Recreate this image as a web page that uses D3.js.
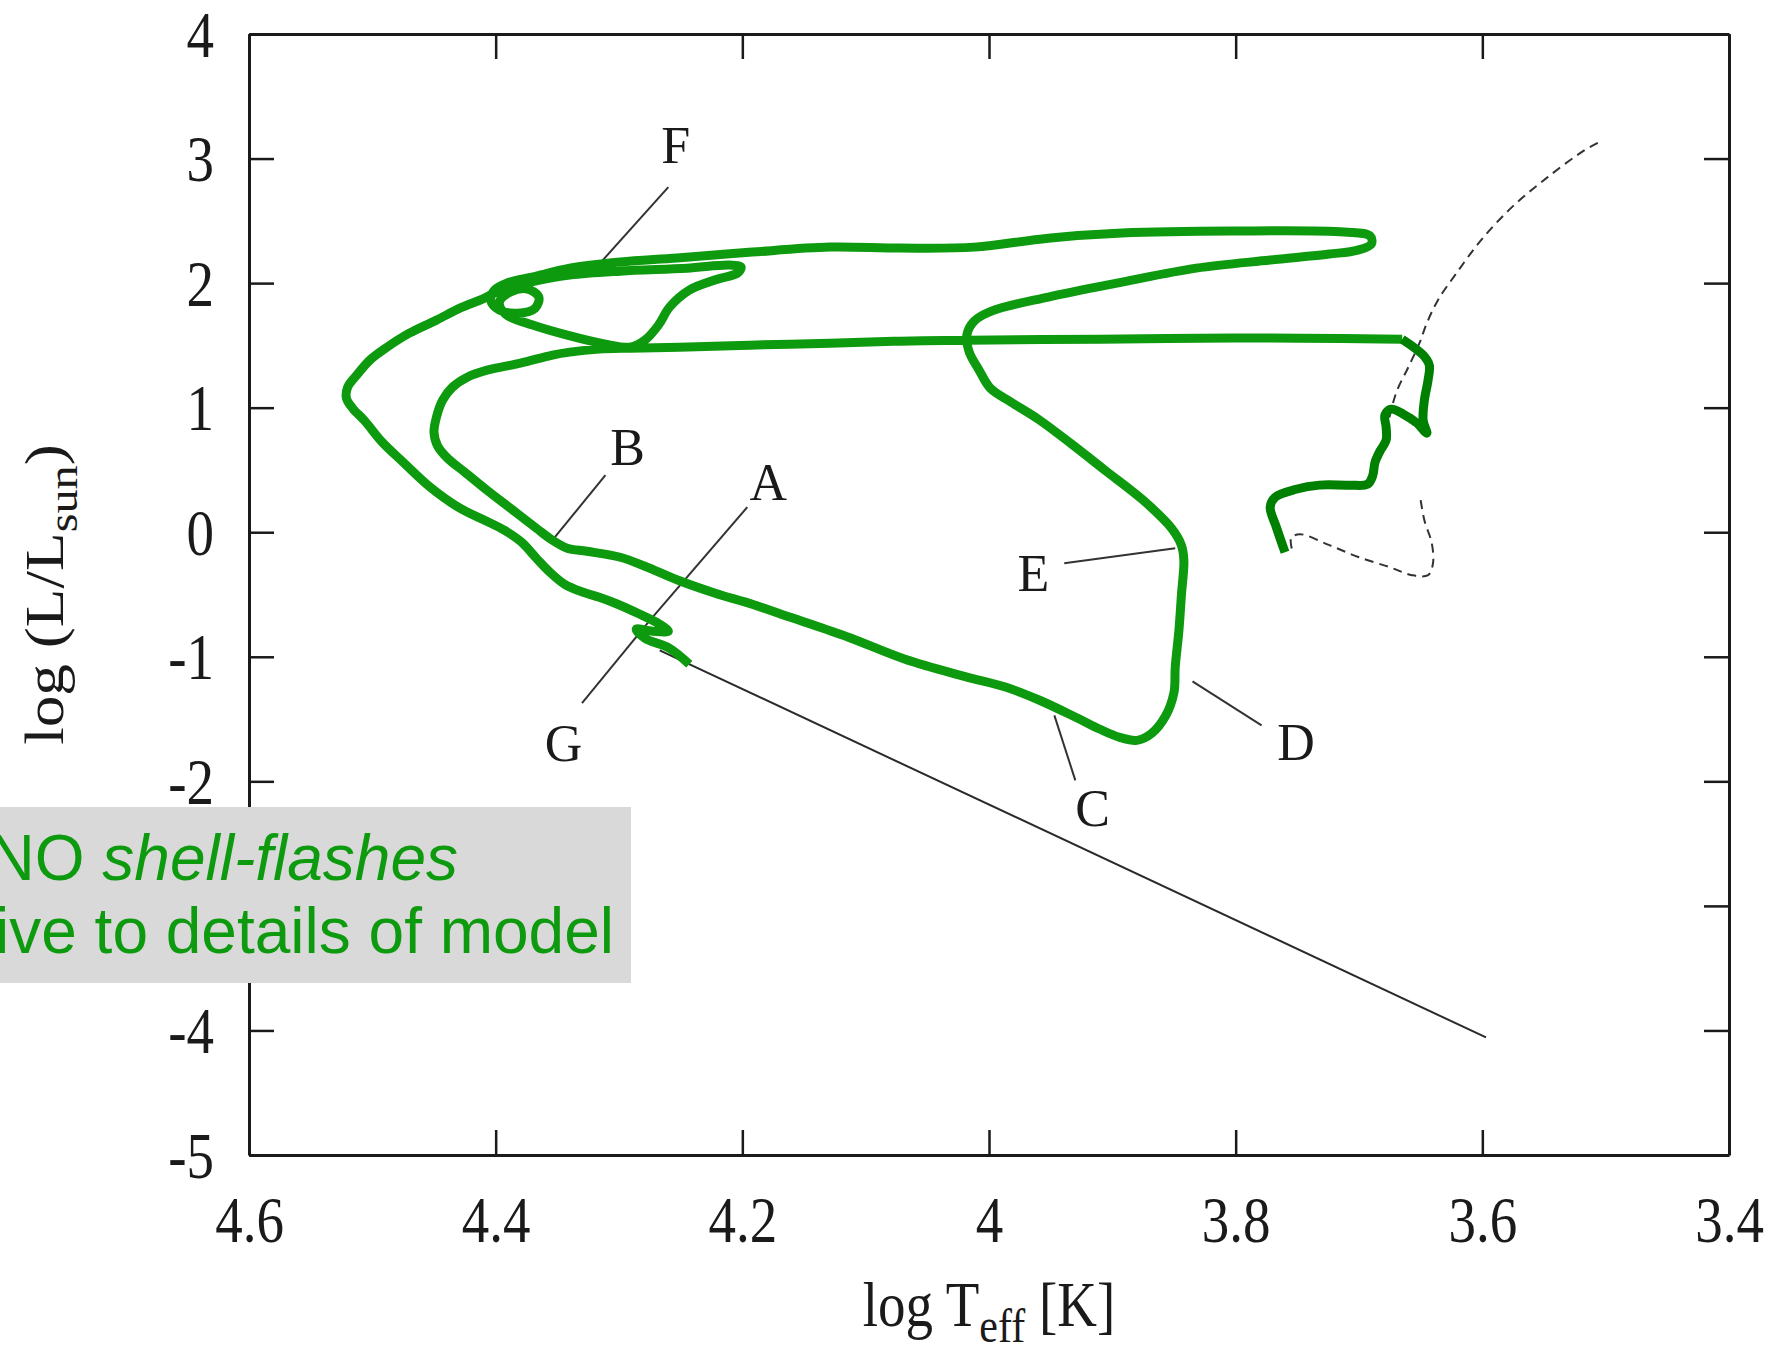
<!DOCTYPE html>
<html>
<head>
<meta charset="utf-8">
<script src="https://cdn.jsdelivr.net/npm/d3@7"></script>
<style>
    body { margin: 0; background: #fff; }
    svg { display: block; }
</style>
</head>
<body>
<svg id="chart" width="1775" height="1351"></svg>
<script>
// axis ticks (the -3 label sits under the grey note box in the picture)
const xTicks = [4.6, 4.4, 4.2, 4.0, 3.8, 3.6, 3.4];
const yTicks = [4, 3, 2, 1, 0, -1, -2, -3, -4, -5];
const hiddenYLabels = [-3];

// [log Teff, log L]
// giant branch part of the highlighted track (darker green)
const rgbTrack = [
    [3.760, -0.161], [3.767, 0.040], [3.772, 0.201], [3.768, 0.281], [3.751, 0.345],
    [3.732, 0.378], [3.708, 0.378], [3.693, 0.386], [3.689, 0.450], [3.687, 0.562],
    [3.683, 0.651], [3.678, 0.739], [3.678, 0.843], [3.679, 0.940], [3.674, 0.988],
    [3.664, 0.948], [3.653, 0.876], [3.645, 0.795], [3.648, 0.900], [3.647, 1.060],
    [3.644, 1.221], [3.643, 1.341], [3.648, 1.422], [3.665, 1.550]
];

// the rest of the highlighted track, tip of the giant branch to the cooling line
const loopTrack = [
    // crossing to the blue
    [3.665, 1.550], [3.748, 1.558], [3.829, 1.558], [3.910, 1.550], [4.018, 1.542],
    [4.072, 1.534], [4.129, 1.518], [4.194, 1.502], [4.251, 1.486], [4.291, 1.478],
    // inner loop
    [4.316, 1.470], [4.340, 1.446], [4.354, 1.422], [4.380, 1.357], [4.407, 1.301],
    [4.423, 1.245], [4.435, 1.165], [4.443, 1.060], [4.448, 0.924], [4.450, 0.803],
    [4.447, 0.691], [4.439, 0.594], [4.425, 0.482], [4.407, 0.337], [4.386, 0.177],
    [4.367, 0.032], [4.354, -0.064], [4.342, -0.128],
    // big loop C -> D -> E and back
    [4.326, -0.153], [4.299, -0.201], [4.279, -0.273], [4.252, -0.386], [4.222, -0.490],
    [4.192, -0.578], [4.161, -0.683], [4.114, -0.843], [4.068, -1.020], [4.020, -1.157],
    [3.986, -1.245], [3.959, -1.349], [3.928, -1.494], [3.910, -1.582], [3.894, -1.647],
    [3.880, -1.671], [3.868, -1.614], [3.857, -1.478], [3.850, -1.285], [3.849, -1.084],
    [3.846, -0.787], [3.844, -0.506], [3.842, -0.225], [3.844, -0.104], [3.852, 0.032],
    [3.875, 0.257], [3.906, 0.498], [3.934, 0.715], [3.959, 0.900], [3.982, 1.044],
    [3.999, 1.157], [4.008, 1.301], [4.016, 1.446], [4.018, 1.582], [4.012, 1.695],
    [3.998, 1.775], [3.952, 1.888], [3.892, 2.008], [3.832, 2.120], [3.772, 2.185],
    [3.724, 2.233], [3.701, 2.265], [3.690, 2.313], [3.691, 2.378], [3.712, 2.410],
    [3.802, 2.418], [3.892, 2.402], [3.952, 2.361], [4.012, 2.289], [4.072, 2.281],
    [4.129, 2.289], [4.192, 2.249], [4.253, 2.201], [4.299, 2.169], [4.340, 2.120],
    [4.367, 2.056], [4.391, 2.000],
    // small loop near F
    [4.401, 1.944], [4.404, 1.863], [4.397, 1.783], [4.382, 1.759], [4.368, 1.799],
    [4.365, 1.888], [4.374, 1.952], [4.388, 1.928], [4.397, 1.847], [4.392, 1.751],
    [4.370, 1.663], [4.342, 1.582], [4.311, 1.510], [4.291, 1.486],
    // tongue
    [4.279, 1.542], [4.268, 1.663], [4.259, 1.807], [4.243, 1.944], [4.220, 2.032],
    [4.204, 2.080], [4.201, 2.129], [4.210, 2.145], [4.245, 2.120], [4.299, 2.096],
    [4.340, 2.064], [4.372, 2.008], [4.393, 1.960], [4.409, 1.880],
    // outer loop down to G
    [4.429, 1.799], [4.448, 1.703], [4.470, 1.598], [4.488, 1.486], [4.502, 1.382],
    [4.512, 1.269], [4.520, 1.165], [4.521, 1.076], [4.516, 0.996], [4.506, 0.892],
    [4.492, 0.723], [4.475, 0.562], [4.453, 0.361], [4.429, 0.193], [4.409, 0.096],
    [4.393, 0.016], [4.379, -0.080], [4.367, -0.209], [4.356, -0.321], [4.344, -0.418],
    [4.329, -0.482], [4.316, -0.522],
    [4.303, -0.570], [4.283, -0.659], [4.267, -0.739], [4.260, -0.795], [4.273, -0.795],
    [4.286, -0.779], [4.279, -0.851], [4.259, -0.932], [4.243, -1.060]
];

// white dwarf cooling line
const coolingTrack = [[4.267, -0.948], [3.597, -4.056]];

// dashed comparison track
const dashUpper = [
    [3.678, 0.803], [3.674, 0.980], [3.669, 1.141], [3.660, 1.325], [3.651, 1.518],
    [3.645, 1.679], [3.636, 1.863], [3.621, 2.080], [3.601, 2.345], [3.576, 2.610],
    [3.547, 2.851], [3.517, 3.068], [3.505, 3.133]
];
const dashLower = [
    [3.650, 0.257], [3.647, 0.096], [3.641, -0.088], [3.640, -0.249], [3.644, -0.345],
    [3.657, -0.345], [3.675, -0.281], [3.700, -0.201], [3.724, -0.104], [3.748, -0.016],
    [3.755, -0.048], [3.754, -0.153]
];

// letter labels: position of the letter and its leader line
const labelNames = ["A", "B", "C", "D", "E", "F", "G"];
const labelPos = [[4.179, 0.402], [4.293, 0.683], [3.916, -2.209], [3.751, -1.679], [3.964, -0.329], [4.254, 3.108], [4.345, -1.687]];
const leaderFrom = [[4.196, 0.201], [4.311, 0.458], [3.930, -1.992], [3.779, -1.550], [3.939, -0.249], [4.260, 2.771], [4.330, -1.373]];
const leaderTo = [[4.275, -0.707], [4.354, -0.064], [3.947, -1.470], [3.835, -1.197], [3.849, -0.128], [4.316, 2.153], [4.275, -0.707]];

const noteLines = ["NO ", "shell-flashes", "Sensitive to details of model"];

const svg = d3.select("#chart");
const plot = {left: 249, right: 1729, top: 34, bottom: 1155};
const serif = "'Liberation Serif', 'Times New Roman', serif";
const green = "#0e9a0e";

const x = d3.scaleLinear().domain([4.6, 3.4]).range([plot.left, plot.right]);
const y = d3.scaleLinear().domain([-5, 4]).range([plot.bottom, plot.top]);

const line = d3.line()
    .x(d => x(d[0]))
    .y(d => y(d[1]));
const smooth = d3.line()
    .x(d => x(d[0]))
    .y(d => y(d[1]))
    .curve(d3.curveCatmullRom.alpha(0.5));

//black lines of the original figure
svg.append("path")
    .attr("d", line(coolingTrack))
    .attr("fill", "none").attr("stroke", "#2a2a2a").attr("stroke-width", 2);

svg.selectAll(".dash")
    .data([dashUpper, dashLower])
    .join("path")
    .attr("class", "dash")
    .attr("d", smooth)
    .attr("fill", "none").attr("stroke", "#333").attr("stroke-width", 2)
    .attr("stroke-dasharray", "9,6");

svg.selectAll(".leader")
    .data(labelNames)
    .join("line")
    .attr("class", "leader")
    .attr("x1", (d, i) => x(leaderFrom[i][0]))
    .attr("y1", (d, i) => y(leaderFrom[i][1]))
    .attr("x2", (d, i) => x(leaderTo[i][0]))
    .attr("y2", (d, i) => y(leaderTo[i][1]))
    .attr("stroke", "#333").attr("stroke-width", 2);

//highlighted track
svg.append("path")
    .attr("d", smooth(loopTrack))
    .attr("fill", "none").attr("stroke", green)
    .attr("stroke-width", 9).attr("stroke-linejoin", "round");

svg.append("path")
    .attr("d", smooth(rgbTrack))
    .attr("fill", "none").attr("stroke", "#008000")
    .attr("stroke-width", 9).attr("stroke-linejoin", "round");

svg.selectAll(".letter")
    .data(labelNames)
    .join("text")
    .attr("class", "letter")
    .attr("x", (d, i) => x(labelPos[i][0]))
    .attr("y", (d, i) => y(labelPos[i][1]))
    .attr("dy", "0.35em")
    .attr("text-anchor", "middle")
    .attr("font-family", serif)
    .attr("font-size", 52)
    .attr("fill", "#1a1a1a")
    .text(d => d);

//axes: labels on bottom and left, mirrored ticks on top and right
const fmt = d => String(+d.toFixed(1));

function styleAxis(g) {
    g.attr("font-family", serif).attr("font-size", 55);
    g.select(".domain").attr("stroke", "#1a1a1a").attr("stroke-width", 3);
    g.selectAll(".tick line").attr("stroke", "#1a1a1a").attr("stroke-width", 2.5);
    g.selectAll(".tick text").attr("fill", "#1a1a1a");
}

const gBottom = svg.append("g")
    .attr("transform", `translate(0,${plot.bottom})`)
    .call(d3.axisBottom(x).tickValues(xTicks).tickSize(-25).tickSizeOuter(0).tickFormat(fmt))
    .call(styleAxis);
gBottom.selectAll(".tick text")
    .attr("y", null).attr("dy", null)
    .attr("transform", "translate(0,87) scale(1,1.2)");

svg.append("g")
    .attr("transform", `translate(0,${plot.top})`)
    .call(d3.axisTop(x).tickValues(xTicks).tickSize(-25).tickSizeOuter(0).tickFormat(""))
    .call(styleAxis);

const gLeft = svg.append("g")
    .attr("transform", `translate(${plot.left},0)`)
    .call(d3.axisLeft(y).tickValues(yTicks).tickSize(-25).tickSizeOuter(0)
        .tickFormat(d => hiddenYLabels.includes(d) ? "" : String(d)))
    .call(styleAxis);
gLeft.selectAll(".tick text")
    .attr("x", null).attr("dy", null)
    .attr("transform", "translate(-35,22) scale(1,1.2)");

svg.append("g")
    .attr("transform", `translate(${plot.right},0)`)
    .call(d3.axisRight(y).tickValues(yTicks).tickSize(-25).tickSizeOuter(0).tickFormat(""))
    .call(styleAxis);

//axis titles
const xTitle = svg.append("text")
    .attr("transform", `translate(${(plot.left + plot.right) / 2},1326) scale(1,1.15)`)
    .attr("text-anchor", "middle")
    .attr("font-family", serif).attr("font-size", 55).attr("fill", "#1a1a1a");
xTitle.append("tspan").text("log T");
xTitle.append("tspan").attr("font-size", 42).attr("dy", 14).text("eff");
xTitle.append("tspan").attr("dy", -14).text(" [K]");

const yTitle = svg.append("text")
    .attr("transform", `translate(63,${(plot.top + plot.bottom) / 2}) rotate(-90) scale(1.15,1)`)
    .attr("text-anchor", "middle")
    .attr("font-family", serif).attr("font-size", 55).attr("fill", "#1a1a1a");
yTitle.append("tspan").text("log (L/L");
yTitle.append("tspan").attr("font-size", 42).attr("dy", 14).text("sun");
yTitle.append("tspan").attr("dy", -14).text(")");

//grey note box over the lower left corner
svg.append("rect")
    .attr("x", 0).attr("y", 807)
    .attr("width", 631).attr("height", 176)
    .attr("fill", "#d9d9d9");

const note1 = svg.append("text")
    .attr("x", 458).attr("y", 880)
    .attr("text-anchor", "end")
    .attr("font-family", "'Liberation Sans', Arial, sans-serif")
    .attr("font-size", 64).attr("fill", green);
note1.append("tspan").text(noteLines[0]);
note1.append("tspan").attr("font-style", "italic").text(noteLines[1]);

svg.append("text")
    .attr("x", 614).attr("y", 953)
    .attr("text-anchor", "end")
    .attr("font-family", "'Liberation Sans', Arial, sans-serif")
    .attr("font-size", 64).attr("fill", green)
    .text(noteLines[2]);
</script>
</body>
</html>
